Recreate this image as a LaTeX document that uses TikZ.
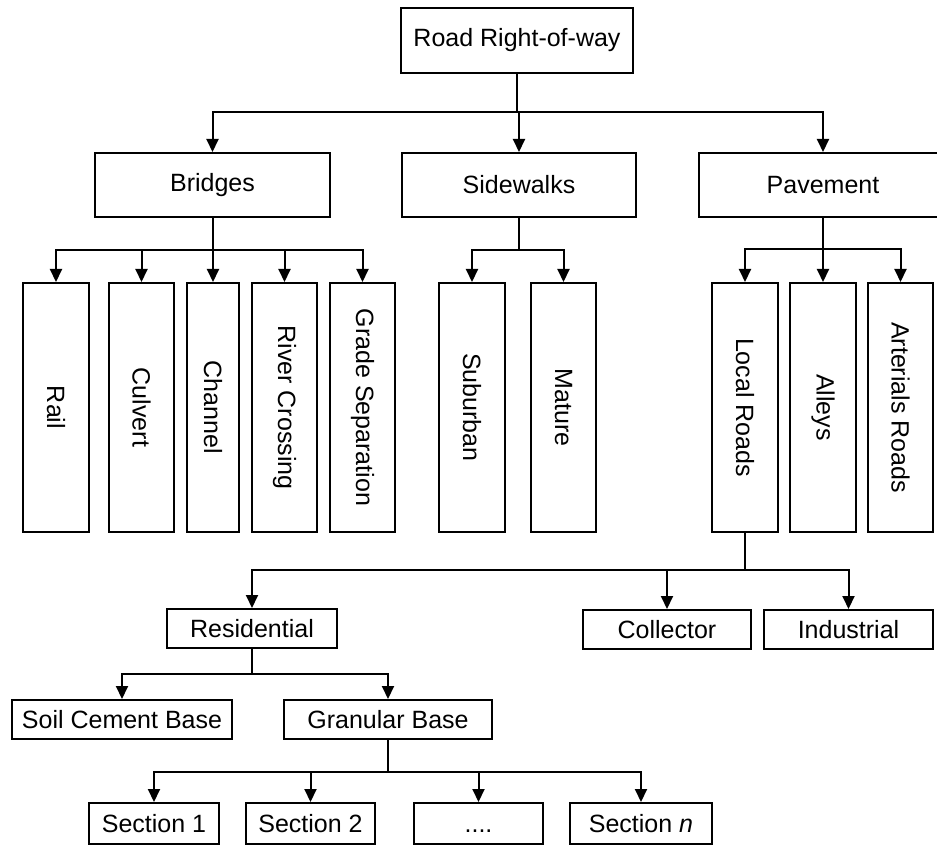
\documentclass[tikz,border=0pt]{standalone}
\usepackage{fontspec}
\usepackage{graphicx}
\setmainfont{Liberation Sans}
\usetikzlibrary{arrows.meta}
\newcommand{\vtext}[1]{\rotatebox{-90}{#1}}
\tikzset{
  box/.style={draw, line width=1pt, inner sep=0pt, fill=white,
    font=\fontsize{12.5}{15}\selectfont},
  tall/.style={box, minimum height=124.5pt},
  short/.style={box, minimum height=19.5pt},
  wide/.style={box, minimum height=32pt},
  link/.style={line width=1pt},
  arr/.style={line width=1pt, -{Triangle[width=6pt,length=6.5pt]}}
}
\begin{document}
\begin{tikzpicture}[x=0.5pt, y=-0.5pt]
\clip (0,0) rectangle (937,845);

% top level
\node[wide, minimum width=116pt, minimum height=32.5pt] (root) at (517,40.5) {Road Right-of-way};

% second level
\node[wide, minimum width=117.5pt] (bridges) at (212.5,185) {Bridges};
\node[wide, minimum width=117pt] (side) at (519,185) {Sidewalks};
\node[wide, minimum width=124pt] (pave) at (823,185) {Pavement};

% bridge types
\node[tall, minimum width=33pt] (rail) at (56,407.5) {\vtext{Rail}};
\node[tall, minimum width=32.5pt] (culvert) at (141.5,407.5) {\vtext{Culvert}};
\node[tall, minimum width=26pt] (channel) at (213,407.5) {\vtext{Channel}};
\node[tall, minimum width=32.5pt] (river) at (284.5,407.5) {\vtext{River Crossing}};
\node[tall, minimum width=32.5pt] (grade) at (362.5,407.5) {\vtext{Grade Separation}};

% sidewalk types
\node[tall, minimum width=33pt] (suburban) at (472,407.5) {\vtext{Suburban}};
\node[tall, minimum width=32.5pt] (mature) at (563.5,407.5) {\vtext{Mature}};

% pavement types
\node[tall, minimum width=33pt] (local) at (745,407.5) {\vtext{Local Roads}};
\node[tall, minimum width=33pt] (alleys) at (823,407.5) {\vtext{Alleys}};
\node[tall, minimum width=32.5pt] (arterial) at (900.5,407.5) {\vtext{Arterials Roads}};

% local road classes
\node[short, minimum width=85pt] (resid) at (252,628.5) {Residential};
\node[short, minimum width=84pt] (collector) at (667,629.5) {Collector};
\node[short, minimum width=84.5pt] (industrial) at (848.5,629.5) {Industrial};

% residential bases
\node[short, minimum width=110pt] (soil) at (122,719.5) {Soil Cement Base};
\node[short, minimum width=104pt] (granular) at (388,719.5) {Granular Base};

% sections
\node[short, minimum width=65pt, minimum height=20.5pt] (s1) at (154,823.5) {Section 1};
\node[short, minimum width=64.5pt, minimum height=20.5pt] (s2) at (310.5,823.5) {Section 2};
\node[short, minimum width=64.5pt, minimum height=20.5pt] (sdots) at (478.5,823.5) {\vphantom{Section}....};
\node[short, minimum width=71pt, minimum height=20.5pt] (sn) at (641,823.5) {Section \textit{n}};

% bus lines
\coordinate (b0) at (0,112);
\coordinate (b1) at (0,250);
\coordinate (b2) at (0,250);
\coordinate (b3) at (0,249);
\coordinate (b4) at (0,570);
\coordinate (b5) at (0,674);
\coordinate (b6) at (0,772);

% connectors
\foreach \c in {bridges,side,pave}
  \draw[arr] (root.south) -- (root.south |- b0) -| (\c.north);
\foreach \c in {rail,culvert,channel,river,grade}
  \draw[arr] (bridges.south) -- (bridges.south |- b1) -| (\c.north);
\foreach \c in {suburban,mature}
  \draw[arr] (side.south) -- (side.south |- b2) -| (\c.north);
\foreach \c in {local,alleys,arterial}
  \draw[arr] (pave.south) -- (pave.south |- b3) -| (\c.north);
\foreach \c in {resid,collector,industrial}
  \draw[arr] (local.south) -- (local.south |- b4) -| (\c.north);
\foreach \c in {soil,granular}
  \draw[arr] (resid.south) -- (resid.south |- b5) -| (\c.north);
\foreach \c in {s1,s2,sdots,sn}
  \draw[arr] (granular.south) -- (granular.south |- b6) -| (\c.north);
\end{tikzpicture}
\end{document}
